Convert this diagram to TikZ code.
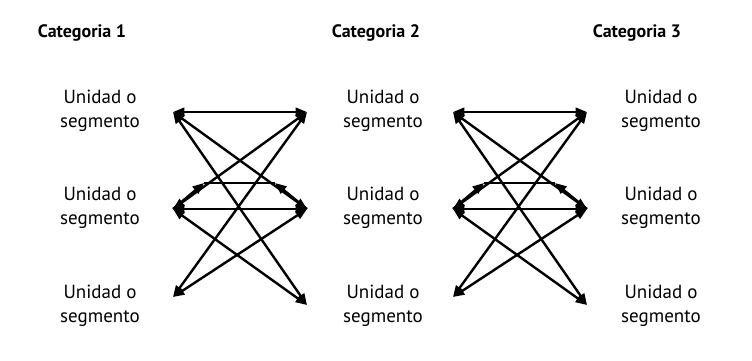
\documentclass[tikz,border=0pt]{standalone}
\usepackage{fontspec}
\setmainfont{PT Sans}
\usepackage{tikz}
\usetikzlibrary{arrows.meta,calc}

\begin{document}
\begin{tikzpicture}[x=1pt, y=1pt,
  unit/.style={align=center, font=\fontsize{19}{24}\selectfont},
  cat/.style={font=\fontsize{18}{22}\selectfont\bfseries},
  arr/.style={-{Triangle[length=4mm, width=3.2mm]}, line width=2.4pt},
  dbl/.style={{Triangle[length=4mm, width=3mm]}-{Triangle[length=4mm, width=3mm]}, line width=2.4pt}]
\useasboundingbox (0,0) rectangle (752,360);
% headers
\node[cat] (c1) at (82,327) {Categoria 1};
\node[cat] (c2) at (376,327) {Categoria 2};
\node[cat] (c3) at (637,327) {Categoria 3};
% units
\node[unit] (u11) at (100,249) {Unidad o\\segmento};
\node[unit] (u12) at (100,152) {Unidad o\\segmento};
\node[unit] (u13) at (100,54) {Unidad o\\segmento};
\node[unit] (u21) at (383,249) {Unidad o\\segmento};
\node[unit] (u22) at (383,152) {Unidad o\\segmento};
\node[unit] (u23) at (383,54) {Unidad o\\segmento};
\node[unit] (u31) at (661,249) {Unidad o\\segmento};
\node[unit] (u32) at (661,152) {Unidad o\\segmento};
\node[unit] (u33) at (661,54) {Unidad o\\segmento};
% links between columns
\foreach \b/\xl/\xr in {1/173/307, 2/453/587} {
  \coordinate (l1) at (\xl,248);
  \coordinate (l2) at (\xl,151);
  \coordinate (l3) at (\xl,63);
  \coordinate (r1) at (\xr,248);
  \coordinate (r2) at (\xr,151);
  \coordinate (r3) at (\xr,55);
  \coordinate (h1) at ($(l2)+(31,26)$);
  \coordinate (h2) at ($(r2)+(-32,26)$);
  \draw[dbl] (l1) -- (r1);
  \draw[dbl] (l1) -- (r2);
  \draw[dbl] (l1) -- (r3);
  \draw[dbl] (l2) -- (r1);
  \draw[dbl] (l2) -- (r2);
  \draw[dbl] (l2) -- (r3);
  \draw[dbl] (l3) -- (r1);
  \draw[dbl] (l3) -- (r2);
  \draw[arr] (l2) -- (h1);
  \draw[arr] (r2) -- (h2);
  \draw[line width=1.3pt] (h1) -- (h2);
}
\end{tikzpicture}
\end{document}
